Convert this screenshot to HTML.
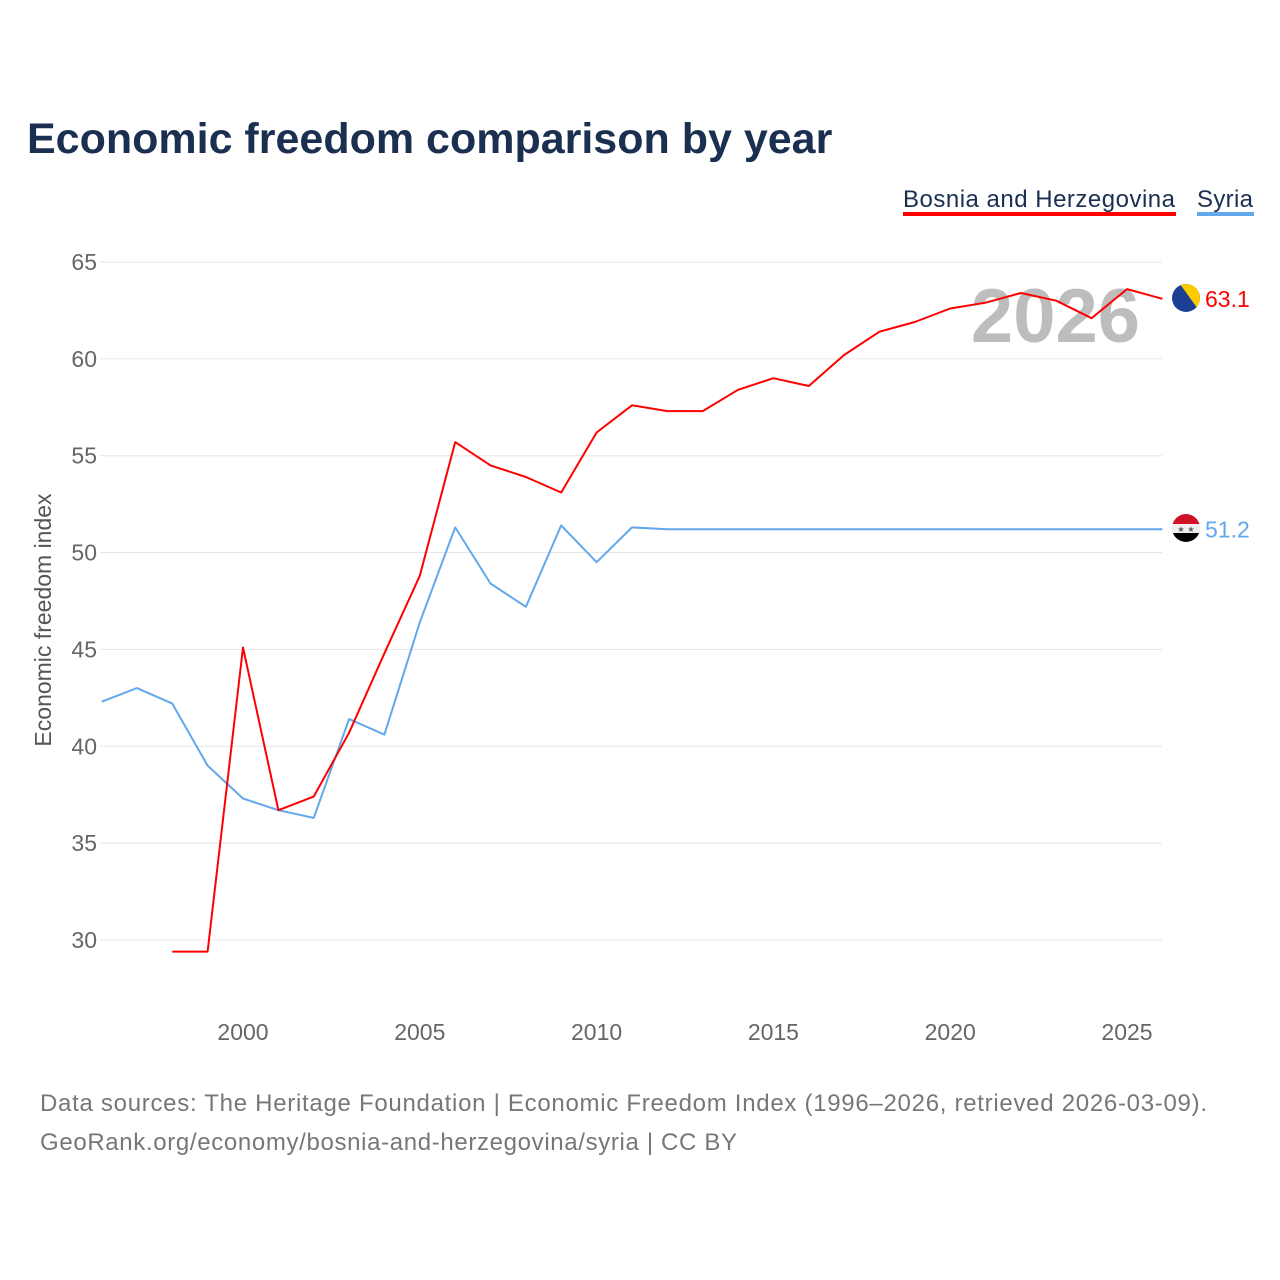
<!DOCTYPE html>
<html><head><meta charset="utf-8">
<style>
body{margin:0;background:#fff;font-family:"Liberation Sans",sans-serif;}
#wrap{position:relative;width:1280px;height:1280px;overflow:hidden;}
</style></head>
<body>
<div id="wrap">
<svg id="chart" width="1280" height="1280">
  <text x="27" y="153" font-size="43" font-weight="bold" fill="#1b3050">Economic freedom comparison by year</text>
  <g>
    <text x="903" y="207" font-size="24" fill="#1b3050" textLength="272">Bosnia and Herzegovina</text>
    <rect x="903" y="212" width="273" height="4" fill="#ff0000"></rect>
  </g>
  <g>
    <text x="1197" y="207" font-size="24" fill="#1b3050" textLength="56">Syria</text>
    <rect x="1197" y="212" width="57" height="4" fill="#62a8ea"></rect>
  </g>
  <text x="1140" y="342" font-size="76" font-weight="bold" fill="#bdbdbd" text-anchor="end">2026</text>
  <g id="grid"></g>
  <g id="yticks"></g>
  <g id="xticks"></g>
  <text transform="translate(51,620) rotate(-90)" font-size="23" fill="#555" text-anchor="middle">Economic freedom index</text>
  <g id="series"></g>
  <g>
    <clipPath id="cb"><circle cx="1186" cy="298" r="14"/></clipPath>
    <g clip-path="url(#cb)">
      <rect x="1172" y="284" width="28" height="28" fill="#1c3f94"/>
      <polygon points="1180,284 1200,284 1200,312" fill="#fecb00"/>
    </g>
  </g>
  <g>
    <clipPath id="cs"><circle cx="1186" cy="528" r="14"/></clipPath>
    <g clip-path="url(#cs)">
      <rect x="1172" y="514" width="28" height="10" fill="#ce1126"/>
      <rect x="1172" y="524" width="28" height="9" fill="#eee"/>
      <rect x="1172" y="533" width="28" height="10" fill="#000"/>
    </g>
    <text x="1181" y="532" font-size="8" fill="#555" text-anchor="middle">★</text>
    <text x="1191" y="532" font-size="8" fill="#555" text-anchor="middle">★</text>
  </g>
  <text x="40" y="1111" font-size="24" fill="#777" textLength="1167">Data sources: The Heritage Foundation | Economic Freedom Index (1996–2026, retrieved 2026-03-09).</text>
  <text x="40" y="1150" font-size="24" fill="#777" textLength="697">GeoRank.org/economy/bosnia-and-herzegovina/syria | CC BY</text>
</svg>
</div>
<script>
const yTicks=[30,35,40,45,50,55,60,65];
const xTicks=[2000,2005,2010,2015,2020,2025];
const years=[1996,1997,1998,1999,2000,2001,2002,2003,2004,2005,2006,2007,2008,2009,2010,2011,2012,2013,2014,2015,2016,2017,2018,2019,2020,2021,2022,2023,2024,2025,2026];
const bosnia=[null,null,29.4,29.4,45.1,36.7,37.4,40.7,44.8,48.8,55.7,54.5,53.9,53.1,56.2,57.6,57.3,57.3,58.4,59.0,58.6,60.2,61.4,61.9,62.6,62.9,63.4,63.0,62.1,63.6,63.1];
const syria=[42.3,43.0,42.2,39.0,37.3,36.7,36.3,41.4,40.6,46.4,51.3,48.4,47.2,51.4,49.5,51.3,51.2,51.2,51.2,51.2,51.2,51.2,51.2,51.2,51.2,51.2,51.2,51.2,51.2,51.2,51.2];
const NS="http://www.w3.org/2000/svg";
const X=v=>243+(v-2000)*35.36;
const Y=v=>262+(65-v)*19.37;
function mk(t,a,p){const e=document.createElementNS(NS,t);for(const k in a)e.setAttribute(k,a[k]);p.appendChild(e);return e;}
const grid=document.getElementById('grid'),yt=document.getElementById('yticks'),xt=document.getElementById('xticks'),ser=document.getElementById('series');
yTicks.forEach(v=>{
  const l=mk('line',{x1:100,x2:1162,y1:Y(v),y2:Y(v),stroke:'#e6e6e6','stroke-width':1},grid);
  
  
  const t=mk('text',{x:97,y:Y(v)+8,'font-size':23,fill:'#666','text-anchor':'end'},yt);
  t.textContent=v;
  
  
});
xTicks.forEach(v=>{
  const t=mk('text',{x:X(v),y:1040,'font-size':23,fill:'#666','text-anchor':'middle'},xt);
  t.textContent=v;
  
  
});
function line(vals,color,name){
  let d='',pen=false;
  vals.forEach((v,i)=>{if(v==null){pen=false;return;}d+=(pen?'L':'M')+X(years[i]).toFixed(1)+','+Y(v).toFixed(1);pen=true;});
  const p=mk('path',{d:d,fill:'none',stroke:color,'stroke-width':2,'stroke-linejoin':'round'},ser);
  
  
  const last=vals[vals.length-1];
  const t=mk('text',{x:1205,y:Y(last)+8,'font-size':23,fill:color},ser);
  t.textContent=last.toFixed(1);
  
  
}
line(syria,'#62a8ea','syria-line');
line(bosnia,'#ff0000','bosnia-line');
</script>
</body></html>
